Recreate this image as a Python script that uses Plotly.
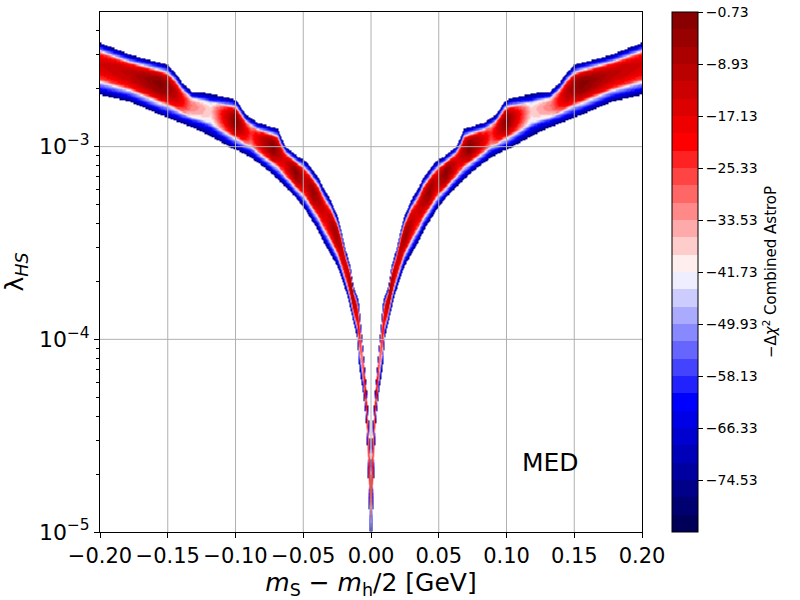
import numpy as np
import plotly.graph_objects as go

# ---- data (left branch, mirrored to the right) ----
# upper edge of the band: |x| (GeV) and log10(lambda_HS)
upper_u = [0.0, 0.0011, 0.0026, 0.0048, 0.0063, 0.0092, 0.0129, 0.0151, 0.0188, 0.0225,
           0.0247, 0.0299, 0.0358, 0.0387, 0.0424, 0.0461, 0.0498, 0.0542, 0.0631, 0.0668,
           0.0690, 0.0838, 0.0926, 0.100, 0.1052, 0.1221, 0.1317, 0.1391, 0.1443, 0.150,
           0.1775, 0.200]
upper_log = [-4.622, -4.466, -4.295, -4.119, -4.000, -3.793, -3.725, -3.622, -3.534, -3.415,
             -3.363, -3.275, -3.207, -3.161, -3.130, -3.093, -3.067, -3.052, -3.000, -2.948,
             -2.907, -2.876, -2.834, -2.756, -2.746, -2.720, -2.715, -2.668, -2.617, -2.575,
             -2.523, -2.461]
# lower edge of the band
lower_u = [0.0, 0.0011, 0.0018, 0.0026, 0.0033, 0.0055, 0.0092, 0.0100, 0.0129, 0.0173,
           0.0247, 0.0351, 0.0395, 0.0498, 0.0590, 0.0742, 0.0889, 0.100, 0.1258, 0.150,
           0.1775, 0.200]
lower_log = [-5.05, -4.969, -4.813, -4.637, -4.466, -4.295, -4.119, -4.000, -3.912, -3.777,
             -3.622, -3.497, -3.430, -3.316, -3.238, -3.135, -3.057, -3.016, -2.917, -2.850,
             -2.767, -2.731]
# best (core) value of -Delta chi^2 along the band
core_u = [0.0, 0.0018, 0.0041, 0.0063, 0.0092, 0.0137, 0.0188, 0.0262, 0.0336, 0.0432,
          0.0483, 0.0557, 0.0646, 0.0727, 0.080, 0.089, 0.100, 0.107, 0.118, 0.133,
          0.144, 0.155, 0.1775, 0.200]
core_val = [-15, -25, -12, -30, -20, -6, -14, -6, -15, -4,
            -12, -2, -16, -1, -10, -25, -1, -15, -38, -30,
            -10, -1, -10, -14]
edge_val = -78.0
# cross-section profile: position from the edge (0) to the core (1) -> fraction of the way to the core value
profile_s = [0.0, 0.36, 0.50, 0.75, 1.0]
profile_g = [0.0, 0.45, 0.80, 0.96, 1.0]

# colour levels and colourbar ticks
level_min, level_max, n_levels = -82.73, -0.73, 30
cbar_ticks = [-0.73, -8.93, -17.13, -25.33, -33.53, -41.73, -49.93, -58.13, -66.33, -74.53]
x_ticks = [-0.20, -0.15, -0.10, -0.05, 0.0, 0.05, 0.10, 0.15, 0.20]
y_ticks = [1e-5, 1e-4, 1e-3]
y_tick_text = ["10<sup>−5</sup>", "10<sup>−4</sup>", "10<sup>−3</sup>"]
x_range = [-0.2, 0.2]
y_log_range = [-5.0, np.log10(5e-3)]

# ---- build the field on a grid ----
X = np.linspace(x_range[0], x_range[1], 541)
Ylog = np.linspace(y_log_range[0], y_log_range[1], 400)
u = np.abs(X)
Lv = np.interp(u, lower_u, lower_log)
Uv = np.interp(u, upper_u, upper_log)
cm = np.interp(u, core_u, core_val)
t = (Ylog[:, None] - Lv[None, :]) / (Uv - Lv)[None, :]
inside = (t >= 0) & (t <= 1)
c = 0.6
s = np.where(t < c, t / c, (1 - t) / (1 - c))
s = np.clip(s, 0, 1)
g = np.interp(s, profile_s, profile_g)
Z = edge_val + (cm[None, :] - edge_val) * g
Z = np.where(inside, Z, np.nan)
Z = np.round(Z, 2)


def seismic(v):
    pts = [(0.0, (0, 0, 0.3)), (0.25, (0, 0, 1)), (0.5, (1, 1, 1)), (0.75, (1, 0, 0)), (1.0, (0.5, 0, 0))]
    for (a, ca), (b, cb) in zip(pts[:-1], pts[1:]):
        if a <= v <= b:
            w = (v - a) / (b - a)
            rgb = [ca[i] + (cb[i] - ca[i]) * w for i in range(3)]
            return "rgb(%d,%d,%d)" % tuple(round(255 * q) for q in rgb)
    return "rgb(0,0,0)"


colorscale = []
for k in range(n_levels):
    col = seismic((k + 0.5) / n_levels)
    colorscale.append([k / n_levels, col])
    colorscale.append([(k + 1) / n_levels, col])

fig = go.Figure()
fig.add_trace(go.Heatmap(
    x=X, y=10 ** Ylog, z=Z, zmin=level_min, zmax=level_max,
    colorscale=colorscale, zsmooth=False, hoverinfo="skip",
    colorbar=dict(
        x=1.055, xanchor="left", xref="paper", y=0.5, yanchor="middle", len=1.0,
        thickness=26, xpad=0, ypad=0, outlinewidth=1, outlinecolor="black",
        tickvals=cbar_ticks, ticktext=[("%.2f" % v).replace("-", "−") for v in cbar_ticks],
        ticks="outside", ticklen=5, tickcolor="black",
        tickfont=dict(family="DejaVu Sans", size=14, color="black"),
        title=dict(text="−Δ<i>χ</i><sup>2</sup> Combined AstroP", side="right",
                   font=dict(family="DejaVu Sans", size=15, color="black")),
    ),
))

grid_color = "#b0b0b0"
for xv in x_ticks[1:-1]:
    fig.add_trace(go.Scatter(x=[xv, xv], y=[10 ** y_log_range[0], 10 ** y_log_range[1]], mode="lines",
                             line=dict(color=grid_color, width=1), hoverinfo="skip", showlegend=False))
for yv in y_ticks[1:]:
    fig.add_trace(go.Scatter(x=x_range, y=[yv, yv], mode="lines",
                             line=dict(color=grid_color, width=1), hoverinfo="skip", showlegend=False))

minor_vals = [m * 10.0 ** e for e in (-5, -4, -3) for m in range(2, 10) if m * 10.0 ** e < 5e-3]

fig.update_layout(
    width=800, height=600, margin=dict(l=100, r=158, t=12, b=68, autoexpand=False),
    paper_bgcolor="white", plot_bgcolor="white",
    font=dict(family="DejaVu Sans", color="black"),
    showlegend=False,
    xaxis=dict(range=x_range, tickvals=x_ticks, tickangle=0, automargin=False,
               ticktext=[("%.2f" % v).replace("-", "−") for v in x_ticks],
               showgrid=False, zeroline=False, showline=True, linecolor="black", linewidth=1,
               mirror=True, ticks="outside", ticklen=5, tickcolor="black",
               tickfont=dict(size=21),
               title=dict(text="<i>m</i><sub>S</sub> − <i>m</i><sub>h</sub>/2 [GeV]",
                          font=dict(size=25), standoff=2)),
    yaxis=dict(type="log", range=y_log_range, tickvals=y_ticks, ticktext=y_tick_text,
               automargin=False,
               showgrid=False, zeroline=False, showline=True, linecolor="black", linewidth=1,
               mirror=True, ticks="outside", ticklen=5, tickcolor="black",
               tickfont=dict(size=22),
               minor=dict(tickvals=minor_vals, ticks="outside", ticklen=3, tickcolor="black",
                          showgrid=False),
               title=dict(text="λ<sub><i>HS</i></sub>", font=dict(size=25), standoff=18)),
    annotations=[dict(x=0.11, y=np.log10(2e-5), xref="x", yref="y", text="MED",
                      showarrow=False, xanchor="left", yanchor="bottom", yshift=-5,
                      font=dict(size=25, color="black"))],
)

fig.write_html("out.html", config={"displayModeBar": False},
               post_script="document.body.style.margin='0';document.body.style.padding='0';")
